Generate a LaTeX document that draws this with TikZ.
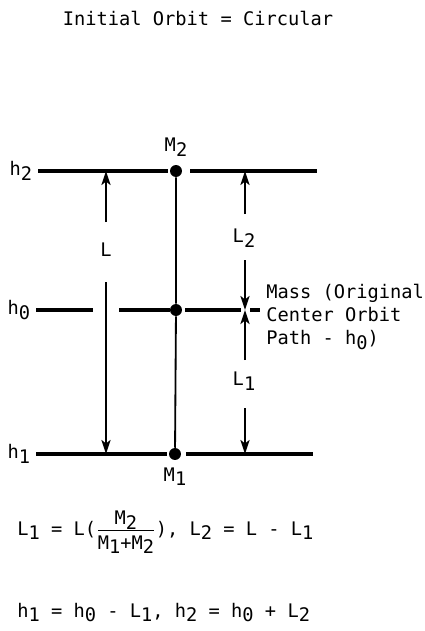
\documentclass[tikz,border=0pt]{standalone}
\usepackage{fontspec}
\setmainfont{DejaVu Sans Mono}
\usetikzlibrary{arrows.meta,positioning}
\newcommand{\lo}[1]{\raisebox{-0.45ex}{#1}}

\begin{document}
\begin{tikzpicture}[x=0.025cm, y=-0.025cm,
  orbit/.style={line width=2.4pt},
  span/.style={line width=1.3pt},
  dimarrow/.style={span, -{Stealth[length=10pt,width=6.5pt,inset=2.5pt]}},
  mass/.style={circle, fill=black, inner sep=0pt, minimum size=8.5pt},
  txt/.style={font=\fontsize{13.3}{16.3}\selectfont, inner sep=0pt}]
  \useasboundingbox (0,0) rectangle (424,631);

  % Title
  \node[txt, anchor=base] (title) at (198,25) {Initial Orbit = Circular};

  % Masses on the tether
  \node[mass] (m2) at (176,171) {};
  \node[mass] (m0) at (176,310) {};
  \node[mass] (m1) at (175,454) {};
  \draw[span] (m2) -- (m0) -- (m1);
  \node[txt, above=6pt of m2] (m2lbl) {M\lo{2}};
  \node[txt, below=5pt of m1] (m1lbl) {M\lo{1}};

  % Orbit levels
  \coordinate (h2a) at (38,171);  \coordinate (h2b) at (168,171);
  \coordinate (h2c) at (190,171); \coordinate (h2d) at (317,171);
  \coordinate (h0a) at (36,310);  \coordinate (h0b) at (93,310);
  \coordinate (h0c) at (119,310); \coordinate (h0d) at (170,310);
  \coordinate (h0e) at (185,310); \coordinate (h0f) at (241,310);
  \coordinate (h0g) at (250,310); \coordinate (h0h) at (260,310);
  \coordinate (h1a) at (36,454);  \coordinate (h1b) at (167,454);
  \coordinate (h1c) at (186,454); \coordinate (h1d) at (313,454);
  \draw[orbit] (h2a) -- (h2b) (h2c) -- (h2d);
  \draw[orbit] (h0a) -- (h0b) (h0c) -- (h0d) (h0e) -- (h0f) (h0g) -- (h0h);
  \draw[orbit] (h1a) -- (h1b) (h1c) -- (h1d);
  \node[txt, left=4pt of h2a] (h2lbl) {h\lo{2}};
  \node[txt, left=4pt of h0a] (h0lbl) {h\lo{0}};
  \node[txt, left=4pt of h1a] (h1lbl) {h\lo{1}};

  % Separation L
  \node[txt] (Llbl) at (106,250) {L};
  \coordinate (Ltop) at (106,222); \coordinate (Lbot) at (106,282);
  \draw[dimarrow] (Ltop) -- (106,171);
  \draw[dimarrow] (Lbot) -- (106,454);

  % L2 and L1 about the centre of mass
  \node[txt] (L2lbl) at (244,238) {L\lo{2}};
  \node[txt] (L1lbl) at (244,381) {L\lo{1}};
  \coordinate (L2up) at (245,214);  \coordinate (L2dn) at (245,260);
  \coordinate (L1up) at (245,360);  \coordinate (L1dn) at (245,408);
  \draw[dimarrow] (L2up) -- (245,171);
  \draw[dimarrow] (L2dn) -- (245,310);
  \draw[dimarrow] (L1up) -- (245,310);
  \draw[dimarrow] (L1dn) -- (245,454);

  \node[txt, anchor=north west, align=left] (cm) at (266,284)
    {Mass (Original\\Center Orbit\\Path - h\lo{0})};

  % Relations
  \node[txt, anchor=base west] (eq1) at (17,535)
    {L\lo{1} = L($\frac{\hbox{M\lo{2}}}{\hbox{\rule{0pt}{13pt}M\lo{1}+M\lo{2}}}$), L\lo{2} = L - L\lo{1}};
  \node[txt, anchor=base west] (eq2) at (17,617)
    {h\lo{1} = h\lo{0} - L\lo{1}, h\lo{2} = h\lo{0} + L\lo{2}};
\end{tikzpicture}
\end{document}
